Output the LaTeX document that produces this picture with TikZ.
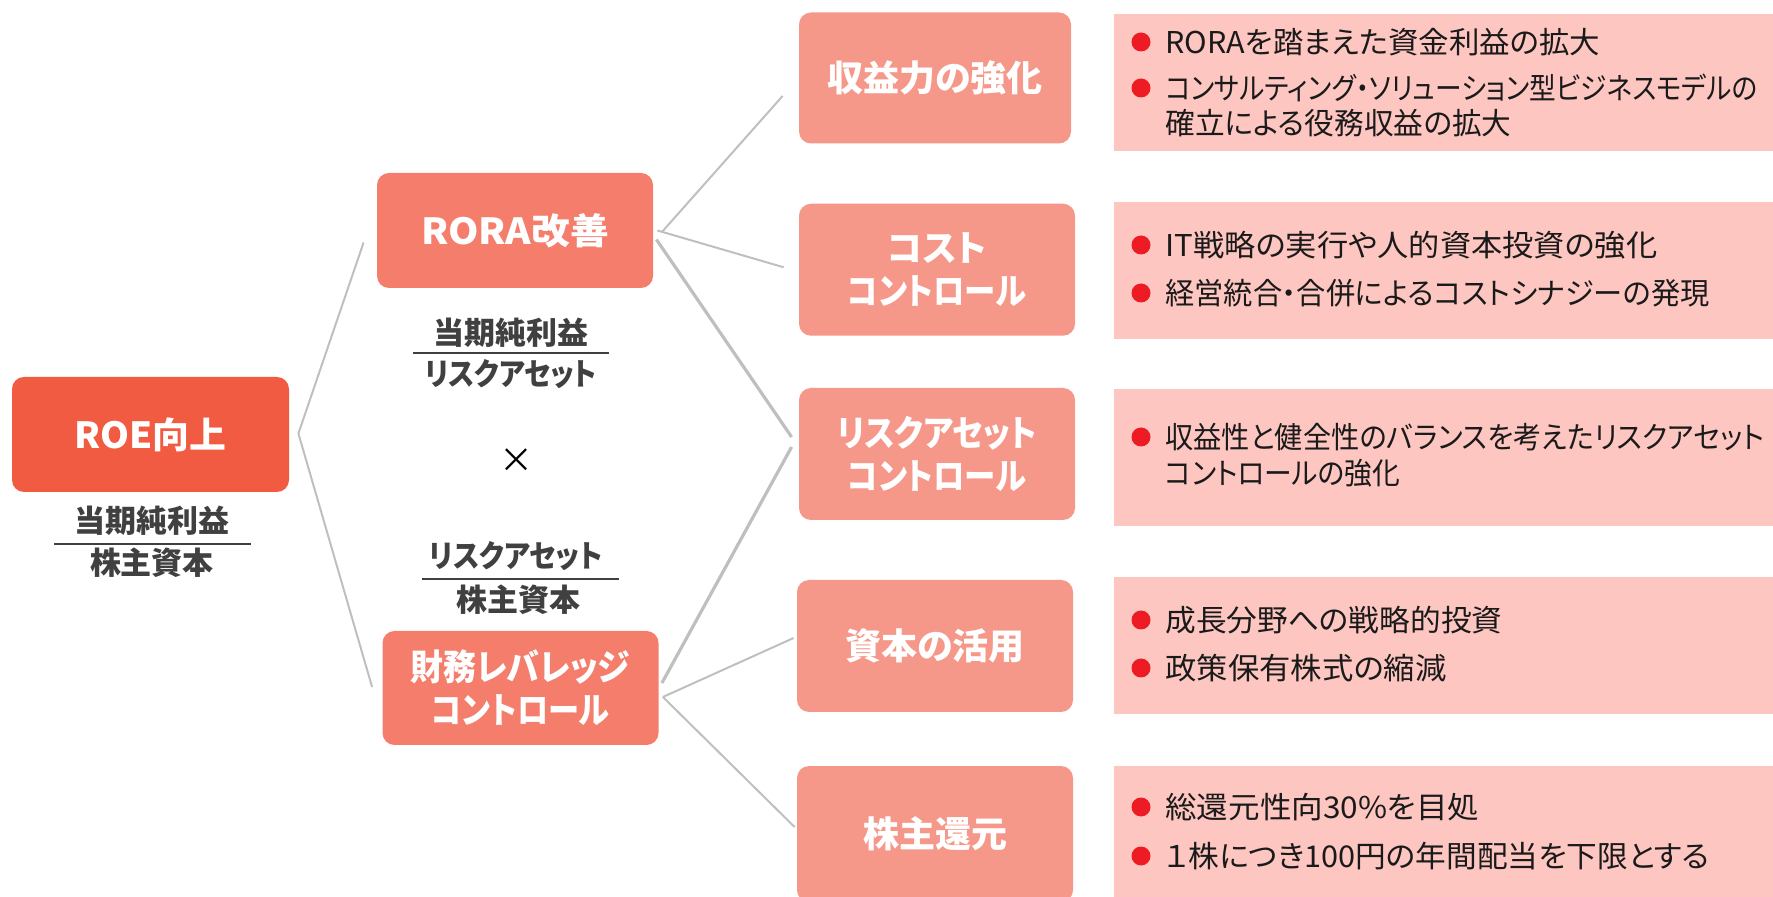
\documentclass[tikz,border=0pt]{standalone}
\usepackage{graphicx}
\usepackage{fontspec}
\newfontfamily\jp{Noto Sans CJK JP}[RawFeature=+palt]
\usetikzlibrary{calc}
\newcommand{\hfit}[2]{\resizebox{#1}{\height}{#2}}
\definecolor{roeC}{RGB}{241,91,66}
\definecolor{midC}{RGB}{244,125,107}
\definecolor{boxC}{RGB}{245,151,137}
\definecolor{paleC}{RGB}{253,198,193}
\definecolor{dotC}{RGB}{237,28,36}
\definecolor{lineC}{RGB}{191,191,191}
\definecolor{txtC}{RGB}{26,26,26}
\definecolor{fracC}{RGB}{64,64,64}
\begin{document}
\begin{tikzpicture}[x=0.5pt,y=-0.5pt,
  card/.style={rounded corners=6pt, inner sep=0pt, text=white, align=center,
    font=\jp\bfseries\fontsize{18}{21.5}\selectfont},
  roebox/.style={card, fill=roeC, minimum width=138.5pt, minimum height=57.5pt},
  lvtwo/.style={card, fill=midC, minimum width=138pt, minimum height=57.5pt},
  lvthree/.style={card, fill=boxC, minimum width=138pt, minimum height=66pt},
  pale/.style={fill=paleC, inner sep=0pt, minimum width=329.5pt, minimum height=68.5pt},
  dot/.style={circle, fill=dotC, inner sep=0pt, minimum size=9.5pt},
  btxt/.style={anchor=west, inner sep=0pt, text=txtC, font=\jp\fontsize{15}{17}\selectfont},
  frac/.style={inner sep=0pt, text=fracC, font=\jp\bfseries\fontsize{15.5}{17}\selectfont},
  fracline/.style={draw=fracC, line width=1pt},
  conn/.style={draw=lineC, line width=1pt},
  connthick/.style={draw=lineC, line width=1.6pt},
]
\useasboundingbox (0,0) rectangle (1773,897);

% level 1
\node[roebox] (roe) at (150.5,434.5) {\hfit{76pt}{ROE向上}};
\node[frac] (roeN) at (152,521) {当期純利益};
\coordinate (roeFL) at (54,544);
\coordinate (roeFR) at (250.5,544);
\draw[fracline] (roeFL) -- (roeFR);
\node[frac] (roeD) at (152,563) {株主資本};

% level 2
\node[lvtwo] (rora) at (515,230.5) {\hfit{94pt}{RORA改善}};
\node[frac] (roraN) at (511,333) {当期純利益};
\coordinate (roraFL) at (413,353);
\coordinate (roraFR) at (609,353);
\draw[fracline] (roraFL) -- (roraFR);
\node[frac] (roraD) at (511,374) {\hfit{86pt}{リスクアセット}};
\node[inner sep=0pt, font=\jp\fontsize{17}{17}\selectfont] (times) at (516.5,461) {×};
\node[frac] (finN) at (516,556.5) {\hfit{86.5pt}{リスクアセット}};
\coordinate (finFL) at (422,579.5);
\coordinate (finFR) at (619,579.5);
\draw[fracline] (finFL) -- (finFR);
\node[frac] (finD) at (518,600) {株主資本};
\node[lvtwo, minimum height=57pt] (fin) at (520.5,688) {\hfit{109.7pt}{財務レバレッジ}\\\hfit{88.8pt}{コントロール}};

% level 3
\node[lvthree, minimum width=136pt, minimum height=65.5pt] (m1) at (935,78) {収益力の強化};
\node[lvthree] (m2) at (937,269.75) {コスト\\\hfit{89.3pt}{コントロール}};
\node[lvthree] (m3) at (937,454) {\hfit{100pt}{リスクアセット}\\\hfit{89.3pt}{コントロール}};
\node[lvthree] (m4) at (935,646) {資本の活用};
\node[lvthree, minimum height=68pt] (m5) at (935,834) {株主還元};

% detail boxes
\node[pale] (t1) at (1443.5,82.5) {};
\node[pale] (t2) at (1443.5,271) {};
\node[pale] (t3) at (1443.5,457.5) {};
\node[pale] (t4) at (1443.5,645.5) {};
\node[pale, minimum height=67pt] (t5) at (1443.5,833) {};

\node[dot] (d11) at (1141,42) {};
\node[btxt] (b11) at (1165,42) {\hfit{217.5pt}{RORAを踏まえた資金利益の拡大}};
\node[dot] (d12) at (1141,88) {};
\node[btxt] (b12) at (1165,88) {\hfit{296pt}{コンサルティング・ソリューション型ビジネスモデルの}};
\node[btxt] (b12b) at (1165,123) {\hfit{173pt}{確立による役務収益の拡大}};

\node[dot] (d21) at (1141,245) {};
\node[btxt] (b21) at (1165,245) {\hfit{246pt}{IT戦略の実行や人的資本投資の強化}};
\node[dot] (d22) at (1141,293) {};
\node[btxt] (b22) at (1165,293) {\hfit{272pt}{経営統合・合併によるコストシナジーの発現}};

\node[dot] (d31) at (1141,437) {};
\node[btxt] (b31) at (1165,437) {\hfit{299.5pt}{収益性と健全性のバランスを考えたリスクアセット}};
\node[btxt] (b31b) at (1165,473) {\hfit{117.5pt}{コントロールの強化}};

\node[dot] (d41) at (1141,620) {};
\node[btxt] (b41) at (1165,620) {\hfit{168.5pt}{成長分野への戦略的投資}};
\node[dot] (d42) at (1141,668) {};
\node[btxt] (b42) at (1165,668) {\hfit{140.5pt}{政策保有株式の縮減}};

\node[dot] (d51) at (1141,807) {};
\node[btxt] (b51) at (1165,807) {\hfit{157pt}{総還元性向30\%を目処}};
\node[dot] (d52) at (1141,856) {};
\node[btxt] (b52) at (1165,856) {\hfit{272pt}{１株につき100円の年間配当を下限とする}};

% connectors
\coordinate (roeOut) at ($(roe.east)+(9,-1)$);
\coordinate (roraIn) at ($(rora.west)+(-13,12)$);
\coordinate (finIn) at ($(fin.west)+(-10,-1)$);
\draw[conn] (roraIn) -- (roeOut) -- (finIn);

\coordinate (roraO1) at ($(rora.east)+(9,1)$);
\coordinate (roraO2) at ($(rora.east)+(4,0)$);
\coordinate (roraO3) at ($(rora.east)+(3,9)$);
\coordinate (m1In) at ($(m1.west)+(-16,18)$);
\coordinate (m2In) at ($(m2.west)+(-15,-2.5)$);
\coordinate (m3InA) at ($(m3.west)+(-7,-17)$);
\coordinate (m3InB) at ($(m3.west)+(-7,-7)$);
\draw[conn] (roraO1) -- (m1In);
\draw[conn] (roraO2) -- (m2In);
\draw[connthick] (roraO3) -- (m3InA);

\coordinate (finO1) at ($(fin.east)+(3,-5)$);
\coordinate (finO2) at ($(fin.east)+(4,9)$);
\coordinate (m4In) at ($(m4.west)+(-3,-8)$);
\coordinate (m5In) at ($(m5.west)+(-2,-7)$);
\draw[connthick] (finO1) -- (m3InB);
\draw[conn] (finO2) -- (m4In);
\draw[conn] (finO2) -- (m5In);
\end{tikzpicture}
\end{document}
